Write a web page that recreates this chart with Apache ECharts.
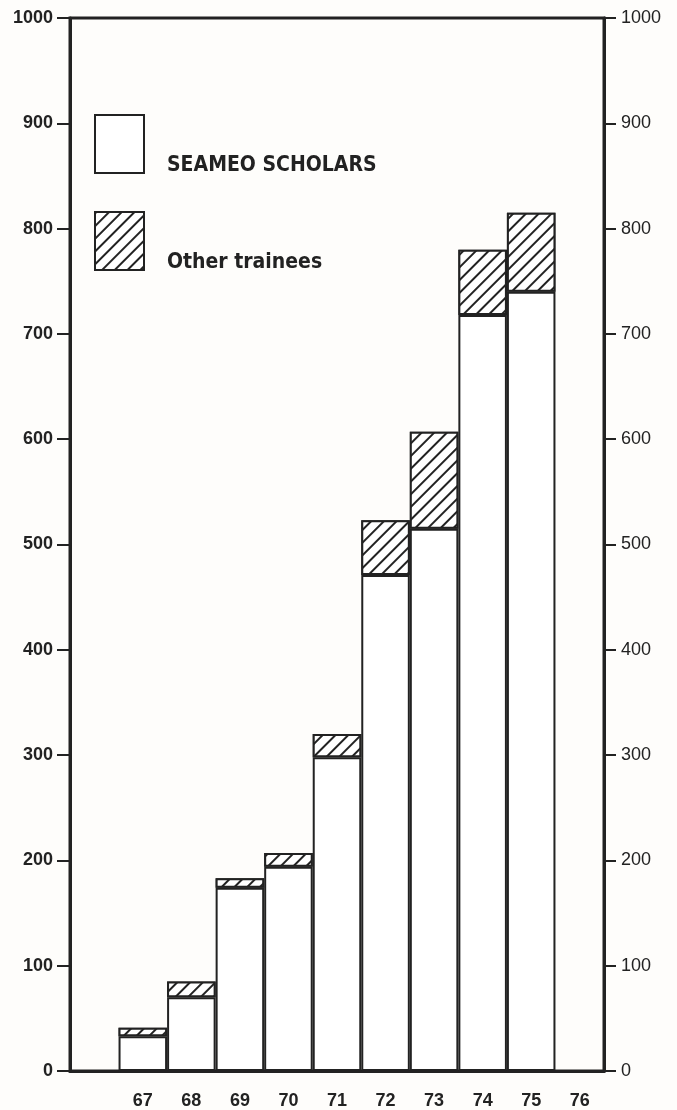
<!DOCTYPE html>
<html>
<head>
<meta charset="utf-8">
<script src="https://cdn.jsdelivr.net/npm/echarts@6/dist/echarts.min.js"></script>
<style>
  html, body { margin: 0; padding: 0; background: #fefdfb; }
  #chart { width: 677px; height: 1110px; }
</style>
</head>
<body>
<div id="chart"></div>
<script>
// years, with an empty slot before 67
var years = ['', '67', '68', '69', '70', '71', '72', '73', '74', '75', '76'];
var seameoScholars = [null, 33, 70, 174, 194, 298, 471, 515, 718, 740, null];
var otherTrainees = [null, 8, 15, 9, 13, 22, 52, 92, 62, 75, null];
var yTicks = [0, 1000, 100]; // min, max, interval

var hatch = {
    symbol: 'rect',
    symbolSize: 1,
    dashArrayX: [1, 0],
    dashArrayY: [2, 7],
    rotation: -Math.PI / 4,
    color: '#222',
    backgroundColor: '#fff'
};

var legendFont = "'DejaVu Sans Condensed', 'Liberation Sans', sans-serif";

var option = {
    backgroundColor: '#fefdfb',
    animation: false,
    grid: {
        left: 70, right: 73, top: 18, bottom: 37,
        show: true, borderColor: '#222', borderWidth: 3
    },
    legend: {
        orient: 'vertical',
        left: 94, top: 100,
        padding: 0,
        itemWidth: 49, itemHeight: 58, itemGap: 9,
        selectedMode: false,
        formatter: function (name) { return '\n' + name; },
        textStyle: {
            fontFamily: legendFont, fontWeight: 'bold',
            fontSize: 21, lineHeight: 44, color: '#222', padding: [0, 0, 0, 18]
        },
        data: [
            { name: 'SEAMEO SCHOLARS', icon: 'rect',
              itemStyle: { color: '#fff', borderColor: '#222', borderWidth: 2 } },
            { name: 'Other trainees', icon: 'rect',
              itemStyle: { color: '#fff', borderColor: '#222', borderWidth: 2, decal: hatch } }
        ]
    },
    xAxis: {
        type: 'category',
        data: years,
        axisLine: { lineStyle: { color: '#222', width: 3 } },
        axisTick: { show: false },
        axisLabel: {
            margin: 21, color: '#222', fontSize: 18, fontWeight: 'bold',
            fontFamily: 'Liberation Sans'
        }
    },
    yAxis: [{
        type: 'value', position: 'left',
        min: yTicks[0], max: yTicks[1], interval: yTicks[2],
        splitLine: { show: false },
        axisLine: { show: true, lineStyle: { color: '#222', width: 3 } },
        axisTick: { show: true, length: 13, lineStyle: { color: '#222', width: 2 } },
        axisLabel: {
            margin: 17, color: '#222', fontSize: 18, fontWeight: 'bold',
            fontFamily: 'Liberation Sans',
            formatter: function (v) { return String(v); }
        }
    }, {
        type: 'value', position: 'right',
        min: yTicks[0], max: yTicks[1], interval: yTicks[2],
        splitLine: { show: false },
        axisLine: { show: true, lineStyle: { color: '#222', width: 3 } },
        axisTick: { show: true, length: 12, lineStyle: { color: '#222', width: 2 } },
        axisLabel: {
            margin: 17, color: '#222', fontSize: 18,
            fontFamily: 'Liberation Sans',
            formatter: function (v) { return String(v); }
        }
    }],
    series: [{
        name: 'SEAMEO SCHOLARS',
        type: 'bar',
        stack: 'total',
        barCategoryGap: 0,
        data: seameoScholars,
        itemStyle: { color: '#fff', borderColor: '#222', borderWidth: 2 }
    }, {
        name: 'Other trainees',
        type: 'bar',
        stack: 'total',
        barCategoryGap: 0,
        data: otherTrainees,
        itemStyle: { color: '#fff', borderColor: '#222', borderWidth: 2, decal: hatch }
    }]
};

var myChart = echarts.init(document.getElementById('chart'));
myChart.setOption(option);
</script>
</body>
</html>
